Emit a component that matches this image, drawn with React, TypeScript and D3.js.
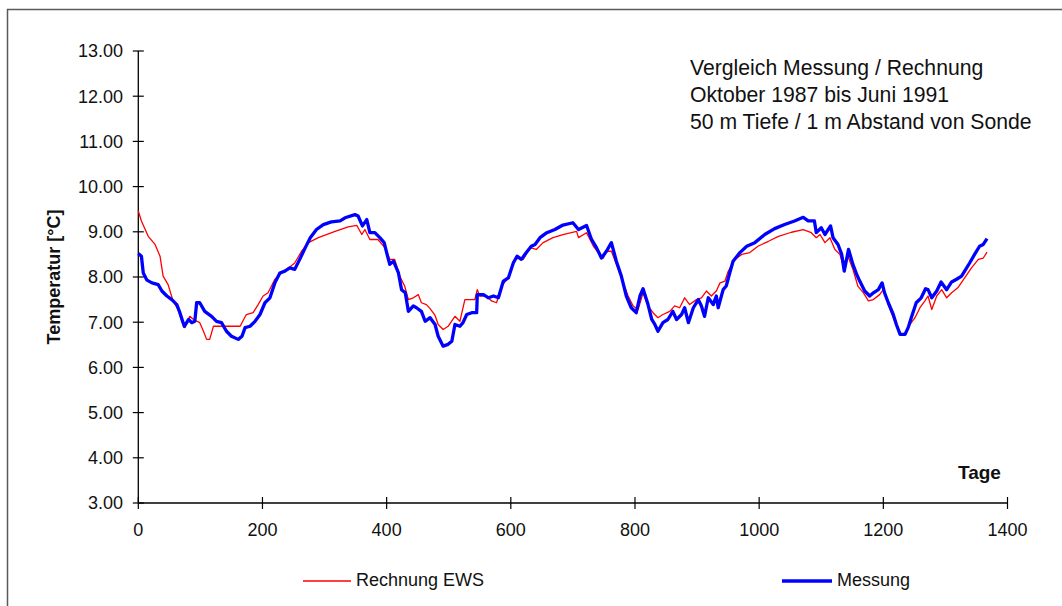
import React from "react";
import * as d3 from "d3";

// Rechnung EWS (calculated)
const rechnungDays = [0, 5, 16, 27, 35, 40, 48, 56, 64, 70, 75, 83, 89, 99, 105, 110, 115, 121, 129, 140, 164, 174, 185, 193, 201, 209, 220, 231, 242, 252, 263, 274, 290, 317, 338, 352, 360, 365, 373, 386, 397, 405, 413, 421, 429, 435, 443, 451, 456, 464, 470, 478, 483, 491, 499, 510, 518, 526, 534, 542, 546, 550, 561, 569, 577, 585, 596, 604, 612, 620, 631, 641, 652, 668, 684, 706, 709, 722, 733, 743, 749, 754, 762, 770, 781, 789, 797, 805, 813, 821, 829, 837, 845, 856, 864, 872, 880, 888, 899, 907, 915, 923, 931, 937, 945, 950, 961, 972, 985, 998, 1015, 1031, 1052, 1071, 1084, 1092, 1098, 1106, 1114, 1122, 1130, 1135, 1143, 1151, 1159, 1168, 1176, 1184, 1194, 1200, 1208, 1216, 1224, 1229, 1237, 1243, 1251, 1259, 1267, 1272, 1278, 1286, 1294, 1302, 1310, 1320, 1331, 1342, 1353, 1361, 1367];
const rechnungTemps = [9.46, 9.24, 8.9, 8.72, 8.46, 8.02, 7.83, 7.47, 7.28, 7.02, 6.88, 7.13, 7.06, 6.99, 6.8, 6.62, 6.62, 6.91, 6.91, 6.91, 6.91, 7.17, 7.21, 7.39, 7.58, 7.65, 7.95, 8.09, 8.2, 8.31, 8.57, 8.76, 8.87, 9.01, 9.11, 9.14, 8.94, 9.05, 8.83, 8.83, 8.65, 8.39, 8.39, 8.02, 7.8, 7.5, 7.54, 7.61, 7.43, 7.39, 7.3, 7.15, 6.95, 6.84, 6.91, 7.13, 7.02, 7.5, 7.5, 7.5, 7.72, 7.58, 7.58, 7.47, 7.43, 7.8, 7.98, 8.35, 8.42, 8.39, 8.65, 8.61, 8.76, 8.87, 8.94, 9.01, 8.87, 8.98, 8.68, 8.5, 8.42, 8.57, 8.57, 8.28, 7.87, 7.58, 7.36, 7.28, 7.65, 7.36, 7.21, 7.1, 7.17, 7.24, 7.36, 7.32, 7.54, 7.39, 7.5, 7.54, 7.69, 7.58, 7.69, 7.87, 7.91, 8.12, 8.39, 8.5, 8.54, 8.68, 8.79, 8.9, 8.99, 9.05, 8.98, 8.87, 8.94, 8.76, 8.87, 8.61, 8.5, 8.28, 8.46, 8.17, 7.8, 7.65, 7.47, 7.5, 7.61, 7.72, 7.39, 7.1, 6.84, 6.73, 6.77, 6.95, 7.1, 7.32, 7.47, 7.58, 7.28, 7.58, 7.72, 7.54, 7.65, 7.76, 7.98, 8.2, 8.39, 8.42, 8.55];

// Messung (measured)
const messungDays = [0, 5, 8, 14, 22, 32, 38, 46, 54, 62, 67, 74, 81, 86, 91, 94, 99, 107, 118, 126, 134, 142, 150, 161, 167, 172, 180, 188, 196, 204, 212, 220, 228, 236, 244, 252, 260, 269, 277, 287, 298, 311, 325, 333, 349, 354, 361, 368, 373, 381, 389, 396, 400, 405, 411, 419, 424, 430, 435, 443, 448, 456, 462, 470, 478, 483, 491, 499, 505, 510, 518, 523, 529, 537, 545, 546, 556, 564, 572, 580, 588, 596, 604, 610, 617, 625, 633, 639, 647, 658, 671, 684, 700, 709, 722, 730, 738, 746, 754, 762, 770, 778, 786, 794, 802, 808, 813, 821, 827, 832, 837, 845, 853, 861, 867, 875, 880, 886, 894, 902, 907, 912, 918, 926, 931, 934, 942, 947, 953, 958, 969, 980, 993, 1009, 1025, 1041, 1057, 1071, 1079, 1089, 1092, 1100, 1106, 1115, 1119, 1127, 1133, 1137, 1144, 1151, 1157, 1162, 1170, 1178, 1184, 1192, 1198, 1202, 1208, 1216, 1221, 1227, 1235, 1240, 1245, 1253, 1261, 1268, 1272, 1278, 1286, 1293, 1302, 1310, 1318, 1326, 1331, 1339, 1347, 1355, 1361, 1367];
const messungTemps = [8.52, 8.46, 8.09, 7.93, 7.87, 7.83, 7.69, 7.58, 7.5, 7.39, 7.21, 6.91, 7.06, 6.99, 7.02, 7.43, 7.43, 7.24, 7.13, 7.02, 6.99, 6.8, 6.69, 6.62, 6.69, 6.88, 6.91, 7.02, 7.17, 7.43, 7.54, 7.87, 8.09, 8.13, 8.2, 8.17, 8.39, 8.65, 8.87, 9.05, 9.16, 9.22, 9.24, 9.31, 9.38, 9.35, 9.13, 9.27, 8.98, 8.98, 8.87, 8.76, 8.54, 8.28, 8.35, 8.09, 7.72, 7.65, 7.24, 7.36, 7.32, 7.24, 7.02, 7.1, 6.95, 6.69, 6.47, 6.51, 6.58, 6.95, 6.91, 6.99, 7.17, 7.21, 7.21, 7.61, 7.61, 7.54, 7.58, 7.54, 7.91, 7.98, 8.31, 8.46, 8.39, 8.54, 8.68, 8.72, 8.87, 8.98, 9.05, 9.15, 9.2, 9.05, 9.14, 8.83, 8.65, 8.42, 8.57, 8.76, 8.35, 8.02, 7.58, 7.32, 7.21, 7.58, 7.74, 7.39, 7.06, 6.95, 6.8, 6.99, 7.06, 7.24, 7.06, 7.17, 7.32, 6.99, 7.32, 7.5, 7.36, 7.13, 7.54, 7.39, 7.58, 7.32, 7.72, 7.8, 8.11, 8.35, 8.54, 8.68, 8.76, 8.94, 9.07, 9.16, 9.24, 9.32, 9.24, 9.24, 8.98, 9.09, 8.94, 9.13, 8.87, 8.72, 8.5, 8.13, 8.61, 8.28, 8.06, 7.91, 7.69, 7.58, 7.65, 7.72, 7.87, 7.65, 7.43, 7.17, 6.95, 6.73, 6.73, 6.88, 7.1, 7.43, 7.54, 7.74, 7.72, 7.54, 7.69, 7.89, 7.72, 7.89, 7.95, 8.02, 8.13, 8.31, 8.5, 8.68, 8.72, 8.85];

const xTicks = [0, 200, 400, 600, 800, 1000, 1200, 1400];
const yTicks = [3, 4, 5, 6, 7, 8, 9, 10, 11, 12, 13];
const titleLines = [
  "Vergleich Messung / Rechnung",
  "Oktober 1987 bis Juni 1991",
  "50 m Tiefe / 1 m Abstand von Sonde",
];

const W = 1062;
const H = 606;
const FONT = "'Liberation Sans', Arial, sans-serif";

export default function App() {
  const x = d3.scaleLinear().domain([0, 1400]).range([138.3, 1007.5]);
  const y = d3.scaleLinear().domain([3, 13]).range([503, 51]);

  const line = d3
    .line<[number, number]>()
    .x((d) => x(d[0]))
    .y((d) => y(d[1]));

  const rPts = rechnungDays.map((d, i) => [d, rechnungTemps[i]] as [number, number]);
  const mPts = messungDays.map((d, i) => [d, messungTemps[i]] as [number, number]);

  return (
    <svg
      width={W}
      height={H}
      style={{ position: "absolute", left: 0, top: 0, background: "#fff" }}
      fontFamily={FONT}
    >
      <rect x={0} y={0} width={W} height={H} fill="#fff" />
      {/* chart border */}
      <line x1={7.5} y1={9} x2={7.5} y2={H} stroke="#5a5a5a" strokeWidth={1.5} />
      <line x1={7} y1={9.5} x2={W} y2={9.5} stroke="#5a5a5a" strokeWidth={1.5} />

      {/* axes */}
      <line x1={x(0)} y1={y(13)} x2={x(0)} y2={y(3)} stroke="#000" strokeWidth={1.3} />
      <line x1={x(0)} y1={y(3)} x2={x(1400)} y2={y(3)} stroke="#000" strokeWidth={1.3} />
      {yTicks.map((t) => (
        <g key={"y" + t}>
          <line x1={x(0) - 5.5} x2={x(0) + 5.5} y1={y(t)} y2={y(t)} stroke="#000" strokeWidth={1.2} />
          <text x={123} y={y(t)} dy="0.36em" textAnchor="end" fontSize={18} fill="#111">
            {t.toFixed(2)}
          </text>
        </g>
      ))}
      {xTicks.map((t) => (
        <g key={"x" + t}>
          <line x1={x(t)} x2={x(t)} y1={y(3) - 6} y2={y(3) + 6} stroke="#000" strokeWidth={1.2} />
          <text x={x(t)} y={530} dy="0.36em" textAnchor="middle" fontSize={18} fill="#111">
            {t}
          </text>
        </g>
      ))}

      {/* axis titles */}
      <text
        transform="translate(60,277) rotate(-90)"
        textAnchor="middle"
        fontSize={18}
        fontWeight="bold"
        fill="#111"
      >
        Temperatur [°C]
      </text>
      <text x={958} y={479} fontSize={19} fontWeight="bold" fill="#111">
        Tage
      </text>

      {/* annotation */}
      {titleLines.map((l, i) => (
        <text key={l} x={690} y={75 + i * 27} fontSize={21.2} fill="#111">
          {l}
        </text>
      ))}

      {/* series */}
      <path d={line(rPts) || ""} fill="none" stroke="#ff0000" strokeWidth={1.3} strokeLinejoin="round" />
      <path d={line(mPts) || ""} fill="none" stroke="#0000ff" strokeWidth={3.3} strokeLinejoin="round" />

      {/* legend */}
      <line x1={303} x2={351} y1={581} y2={581} stroke="#ff0000" strokeWidth={1.3} />
      <text x={356} y={586} fontSize={18} fill="#111">
        Rechnung EWS
      </text>
      <line x1={782} x2={832} y1={581} y2={581} stroke="#0000ff" strokeWidth={3.3} />
      <text x={837} y={586} fontSize={18} fill="#111">
        Messung
      </text>
    </svg>
  );
}
